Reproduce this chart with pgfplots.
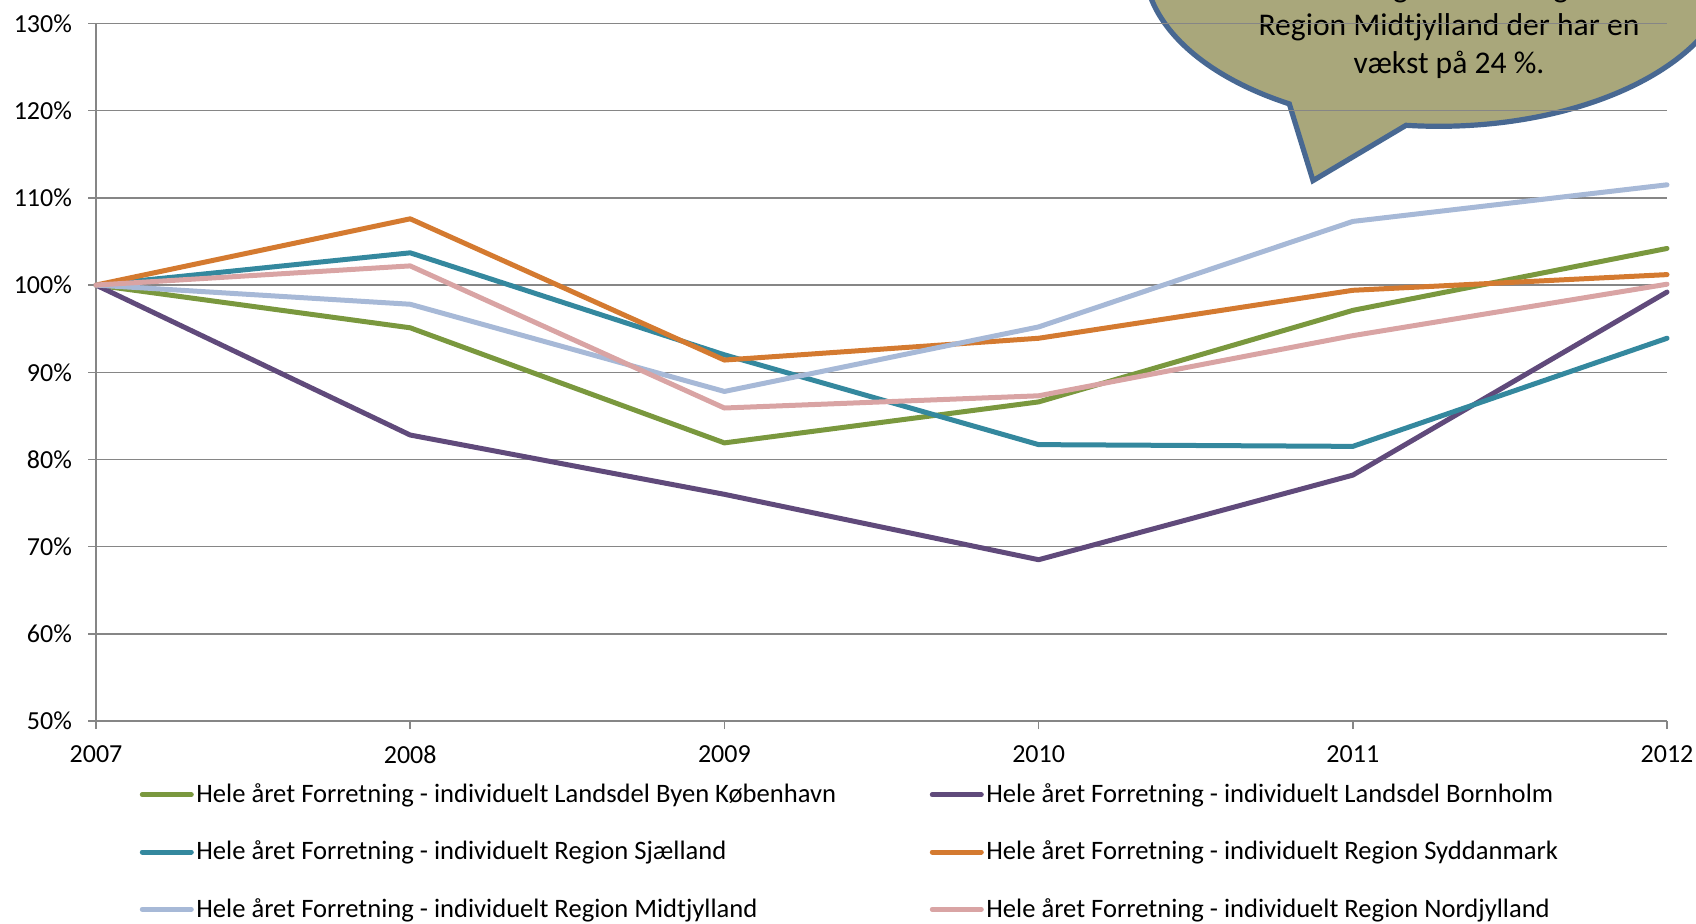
\documentclass[border=0pt]{standalone}
\usepackage{fontspec}
\setmainfont{Carlito}
\usepackage{pgfplots}
\pgfplotsset{compat=1.18}

\definecolor{cKbh}{RGB}{122,152,62}
\definecolor{cBorn}{RGB}{96,74,123}
\definecolor{cSjae}{RGB}{52,136,158}
\definecolor{cSydd}{RGB}{212,122,48}
\definecolor{cMidt}{RGB}{167,185,215}
\definecolor{cNord}{RGB}{217,164,164}
\definecolor{gridgray}{RGB}{134,134,134}
\definecolor{bubblefill}{RGB}{169,167,123}
\definecolor{bubbleedge}{RGB}{72,104,146}

% Index (2007 = 100 %) per region
\pgfplotstableread{
year kbh   born  sjae  sydd  midt  nord
2007 100.0 100.0 100.0 100.0 100.0 100.0
2008 95.1  82.8  103.7 107.6 97.8  102.2
2009 81.9  76.0  92.0  91.4  87.8  85.9
2010 86.6  68.5  81.7  93.9  95.2  87.3
2011 97.1  78.2  81.5  99.4  107.3 94.2
2012 104.2 99.2  93.9  101.2 111.5 100.1
}\indexdata

\begin{document}
\begin{tikzpicture}
\useasboundingbox (0,0) rectangle (848pt,461.5pt);
\clip (0,0) rectangle (848pt,461.5pt);

% speech bubble behind the grid
\filldraw[fill=bubblefill, draw=bubbleedge, line width=2.6pt, line join=miter]
  ([shift={(719.25pt,479.35pt)}]263.66:147pt and 81pt)
  arc[start angle=263.66, end angle=599.5, x radius=147pt, y radius=81pt]
  -- (656.5pt,371.2pt) -- cycle;
\begin{scope}[every node/.style={anchor=base, font=\fontsize{15.8}{19}\selectfont}]
  \node at (724.5pt,462.6pt) {Den kraftigste udvikling ses i};
  \node at (724.5pt,443.6pt) {Region Midtjylland der har en};
  \node at (724.5pt,424.75pt) {vækst på 24 \%.};
\end{scope}

\begin{axis}[
  at={(48pt,101pt)}, anchor=south west,
  scale only axis, width=785.5pt, height=348.75pt,
  xmin=2007, xmax=2012, ymin=50, ymax=130,
  xtick={2007,2008,2009,2010,2011,2012},
  ytick={50,60,70,80,90,100,110,120,130},
  axis x line*=bottom, axis y line*=left,
  axis line style={gridgray, line width=0.75pt},
  tick align=outside, major tick length=4pt,
  tick style={gridgray, line width=0.75pt},
  ymajorgrids, grid style={gridgray, line width=0.75pt},
  /pgf/number format/assume math mode=true,
  ticklabel style={font=\fontsize{13}{15}\selectfont, black},
  x tick label style={yshift=-4.6pt},
  y tick label style={xshift=-4.5pt},
  xticklabel={\pgfmathprintnumber[1000 sep={}]{\tick}},
  yticklabel={\pgfmathprintnumber{\tick}\%},
  clip=false,
  every axis plot/.append style={line width=2.5pt, line cap=round, line join=round},
  legend columns=2,
  legend cell align=left,
  legend style={at={(0.0238,-0.1878)}, anchor=west, draw=none, fill=none,
    font=\fontsize{13.3}{15}\selectfont, row sep=13.75pt,
    nodes={inner xsep=1.3pt},
    /tikz/every even column/.append style={column sep=45.5pt}},
  legend image code/.code={\draw[#1] (0pt,0pt) -- (24.5pt,0pt);},
]
\addplot[cKbh]  table[x=year, y=kbh]  {\indexdata};
\addlegendentry{Hele året Forretning - individuelt Landsdel Byen København}
\addplot[cBorn] table[x=year, y=born] {\indexdata};
\addlegendentry{Hele året Forretning - individuelt Landsdel Bornholm}
\addplot[cSjae] table[x=year, y=sjae] {\indexdata};
\addlegendentry{Hele året Forretning - individuelt Region Sjælland}
\addplot[cSydd] table[x=year, y=sydd] {\indexdata};
\addlegendentry{Hele året Forretning - individuelt Region Syddanmark}
\addplot[cMidt] table[x=year, y=midt] {\indexdata};
\addlegendentry{Hele året Forretning - individuelt Region Midtjylland}
\addplot[cNord] table[x=year, y=nord] {\indexdata};
\addlegendentry{Hele året Forretning - individuelt Region Nordjylland}
\end{axis}
\end{tikzpicture}
\end{document}
